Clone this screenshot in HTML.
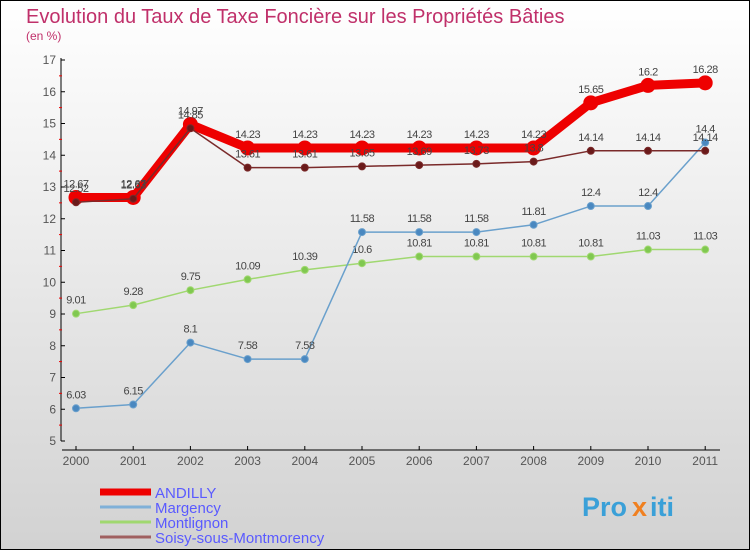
<!DOCTYPE html>
<html><head><meta charset="utf-8"><style>
body{margin:0;width:750px;height:550px;overflow:hidden;font-family:"Liberation Sans",sans-serif}
svg{display:block}
</style></head><body>
<svg id="chart" width="750" height="550" viewBox="0 0 750 550">
<defs><linearGradient id="bg" x1="0" y1="0" x2="0" y2="1"><stop offset="0" stop-color="#ffffff"/><stop offset="1" stop-color="#d2d2d2"/></linearGradient></defs>
<rect x="0.5" y="0.5" width="749" height="549" fill="url(#bg)" stroke="#000"/>
<text x="26" y="23" font-size="20" fill="#c0306a">Evolution du Taux de Taxe Foncière sur les Propriétés Bâties</text>
<text x="26" y="40" font-size="12" fill="#c0306a">(en %)</text>
<g id="axes"></g>
<g id="series"></g>
<g id="legend"></g>
<g font-size="27" font-weight="bold">
<text x="582" y="516" fill="#3aa0d8">Pro</text><text x="632" y="516" fill="#f08020">x</text><text x="650" y="516" fill="#3aa0d8">iti</text>
</g>
</svg>
<script>
const years=["2000","2001","2002","2003","2004","2005","2006","2007","2008","2009","2010","2011"];
const yTicks=[5,6,7,8,9,10,11,12,13,14,15,16,17];
const andilly=[12.67,12.67,14.97,14.23,14.23,14.23,14.23,14.23,14.23,15.65,16.2,16.28];
const margency=[6.03,6.15,8.1,7.58,7.58,11.58,11.58,11.58,11.81,12.4,12.4,14.4];
const montlignon=[9.01,9.28,9.75,10.09,10.39,10.6,10.81,10.81,10.81,10.81,11.03,11.03];
const soisy=[12.52,12.63,14.85,13.61,13.61,13.65,13.69,13.73,13.8,14.14,14.14,14.14];
const seriesNames=["ANDILLY","Margency","Montlignon","Soisy-sous-Montmorency"];
const NS="http://www.w3.org/2000/svg";
const xs=i=>76+i*57.2;
const ys=v=>441-(v-5)*31.75;
function mk(tag,attrs,parent){const e=document.createElementNS(NS,tag);for(const k in attrs)e.setAttribute(k,attrs[k]);parent.appendChild(e);return e;}
const ax=document.getElementById('axes');
let l=mk('line',{x1:61,y1:58,x2:61,y2:441,stroke:'#000'},ax);


l=mk('line',{x1:62,y1:450,x2:720,y2:450,stroke:'#000'},ax);


yTicks.forEach(v=>{
 const y=ys(v);
 mk('line',{x1:61,y1:y,x2:65,y2:y,stroke:'#000'},ax);
 if(v<17)mk('line',{x1:59,y1:y-15.9,x2:62,y2:y-15.9,stroke:'#e00'},ax);
 const t=mk('text',{x:56,y:y+4,'font-size':12,'text-anchor':'end',fill:'#555'},ax);
 t.textContent=v;
 
 
});
years.forEach((yr,i)=>{
 const x=xs(i);
 mk('line',{x1:x,y1:446,x2:x,y2:450,stroke:'#000'},ax);
 const t=mk('text',{x:x,y:465,'font-size':12,'text-anchor':'middle',fill:'#555'},ax);
 t.textContent=yr;
 
 
});
const sg=document.getElementById('series');
function draw(vals,color,width,r,dot,name){
 const g=mk('g',{},sg);
 
 
 mk('polyline',{points:vals.map((v,i)=>xs(i)+','+ys(v)).join(' '),fill:'none',stroke:color,'stroke-width':width,'stroke-linejoin':'round'},g);
 vals.forEach((v,i)=>{
  const c=mk('circle',{cx:xs(i),cy:ys(v),r:r,fill:dot,stroke:color,'stroke-width':1},g);
  
  
  const t=mk('text',{x:xs(i),y:ys(v)-10,'font-size':11,'text-anchor':'middle',fill:'#444','letter-spacing':'-0.5'},g);
  t.textContent=v;
  
  
 });
}
draw(montlignon,'#a0d870',1.5,3.5,'#80c850','montlignon-series');
draw(margency,'#6aa0cc',1.5,3.5,'#4a88c0','margency-series');
draw(andilly,'#ee0000',9,7,'#ee0000','andilly-series');
draw(soisy,'#7a2a2a',1.5,3.5,'#6a1a1a','soisy-series');
const lg=document.getElementById('legend');
const lcol=['#ee0000','#7fb0d8','#a0d870','#a06060'];
const lw=[7,3,3,3];
seriesNames.forEach((n,i)=>{
 const y=492+i*15;
 const g=mk('g',{},lg);
 
 
 mk('line',{x1:100,y1:y,x2:151,y2:y,stroke:lcol[i],'stroke-width':lw[i]},g);
 const t=mk('text',{x:155,y:y+6,'font-size':15,fill:'#5a5aff'},g);
 t.textContent=n;
});
</script>
</body></html>
